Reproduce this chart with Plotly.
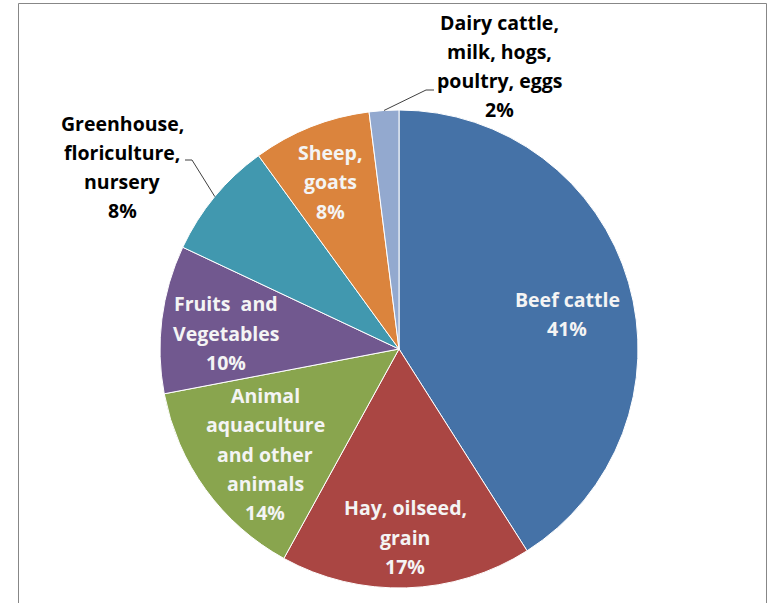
import math
import plotly.graph_objects as go

# ---- data ----
categories = [
    "Beef cattle",
    "Hay, oilseed, grain",
    "Animal aquaculture and other animals",
    "Fruits and Vegetables",
    "Greenhouse, floriculture, nursery",
    "Sheep, goats",
    "Dairy cattle, milk, hogs, poultry, eggs",
]
shares = [41, 17, 14, 10, 8, 8, 2]
label_lines = [
    ["Beef cattle"],
    ["Hay, oilseed,", "grain"],
    ["Animal", "aquaculture", "and other", "animals"],
    ["Fruits  and", "Vegetables"],
    ["Greenhouse,", "floriculture,", "nursery"],
    ["Sheep,", "goats"],
    ["Dairy cattle,", "milk, hogs,", "poultry, eggs"],
]

# ---- style ----
colors = ["#4572A7", "#AA4643", "#89A54E", "#71588F", "#4198AF", "#DB843D", "#93A9CF"]
W, H = 775, 603
CX, CY, R = 399, 349, 239
# label block centres (pixels) and whether label is inside the slice
label_pos = [(567, 314), (405, 537), (265, 454), (226, 333), (122, 167), (330, 182), (499, 66)]
inside = [True, True, True, True, False, True, False]
LINE_H = 29.3
FONT = "Open Sans"
FS = 19.5


def px(x):
    return x / W


def py(y):
    return 1 - y / H


fig = go.Figure(
    go.Pie(
        labels=categories,
        values=shares,
        sort=False,
        direction="clockwise",
        rotation=0,
        textinfo="none",
        hoverinfo="label+percent",
        marker=dict(colors=colors, line=dict(color="white", width=1)),
        domain=dict(x=[px(CX - R), px(CX + R)], y=[py(CY + R), py(CY - R)]),
        showlegend=False,
    )
)

annotations = []
for lines, v, (lx, ly), ins in zip(label_lines, shares, label_pos, inside):
    all_lines = lines + [f"{v}%"]
    n = len(all_lines)
    for i, t in enumerate(all_lines):
        y = ly + (i - (n - 1) / 2) * LINE_H
        annotations.append(
            dict(
                x=px(lx), y=py(y), xref="paper", yref="paper",
                text=t, showarrow=False, xanchor="center", yanchor="middle",
                font=dict(family=FONT, size=FS, color="#F4F4F4" if ins else "black", weight="bold"),
            )
        )

shapes = [
    # chart-area border
    dict(type="rect", xref="paper", yref="paper",
         x0=px(18.5), x1=px(766.5), y0=py(640), y1=py(3.5),
         line=dict(color="#878787", width=1), fillcolor="rgba(0,0,0,0)", layer="below"),
]

# leader lines for outside labels, anchored at slice mid-angle on the rim
total = sum(shares)
cum = 0
mids = []
for v in shares:
    mids.append((cum + v / 2) / total * 2 * math.pi)
    cum += v


def rim(i):
    a = mids[i]
    return CX + R * math.sin(a), CY - R * math.cos(a)


gx, gy = rim(4)
dx, dy = rim(6)
leaders = [
    [(185, 160), (192, 160), (gx, gy)],
    [(dx, dy), (426, 90), (434, 90)],
]
for pts in leaders:
    path = "M " + " L ".join(f"{px(x)},{py(y)}" for x, y in pts)
    shapes.append(dict(type="path", xref="paper", yref="paper", path=path,
                       line=dict(color="#404040", width=1)))

fig.update_layout(
    width=W, height=H,
    margin=dict(l=0, r=0, t=0, b=0),
    paper_bgcolor="white",
    plot_bgcolor="white",
    annotations=annotations,
    shapes=shapes,
)

fig.write_html("out.html", config={"displayModeBar": False},
               post_script="document.body.style.margin='0';")
